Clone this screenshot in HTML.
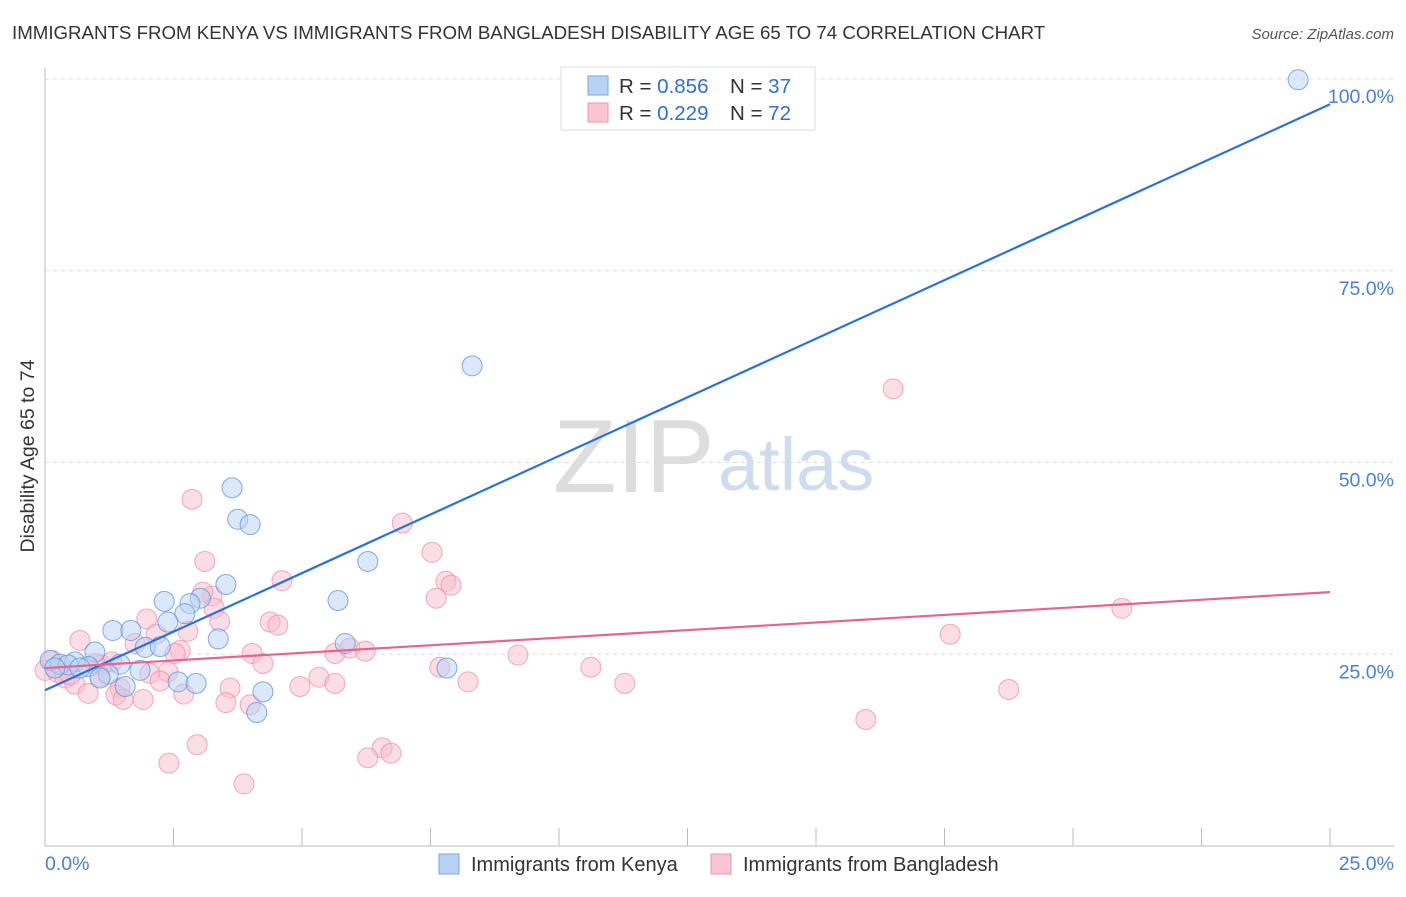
<!DOCTYPE html>
<html><head><meta charset="utf-8"><style>
body{margin:0;background:#fff;font-family:"Liberation Sans",sans-serif;}
svg text{font-family:"Liberation Sans",sans-serif;}
</style></head><body>
<svg id="chart" width="1406" height="892" viewBox="0 0 1406 892">
<text x="12" y="39" font-size="18.7" fill="#333">IMMIGRANTS FROM KENYA VS IMMIGRANTS FROM BANGLADESH DISABILITY AGE 65 TO 74 CORRELATION CHART</text>
<text x="1394" y="39" font-size="15" fill="#555" text-anchor="end" font-style="italic">Source: ZipAtlas.com</text>
<text x="553" y="492" font-size="104" fill="#ddd" font-family="Liberation Serif">ZIP</text>
<text x="718" y="490" font-size="74" fill="#cfdcef">atlas</text>
<g id="grid"></g>
<g id="axes"></g>
<g id="pts"></g>
<g id="trends"></g>
<text transform="translate(34,456) rotate(-90)" font-size="19.5" fill="#333" text-anchor="middle">Disability Age 65 to 74</text>
<text x="45" y="870" font-size="19.5" fill="#4a7fd4">0.0%</text>
<text x="1394" y="870" font-size="19.5" fill="#4a7fd4" text-anchor="end">25.0%</text>
<g>
<rect x="561" y="67" width="254" height="63" fill="#fff" stroke="#ddd"/>
<rect x="588" y="76" width="20" height="19" fill="#b8d2f4" stroke="#7aa6e6"/>
<rect x="588" y="103" width="20" height="19" fill="#fac4d3" stroke="#ee95ae"/>
<text x="619" y="93" font-size="20.5" fill="#333">R = <tspan fill="#2f6fd0">0.856</tspan><tspan x="730">N = </tspan><tspan fill="#2f6fd0">37</tspan></text>
<text x="619" y="120" font-size="20.5" fill="#333">R = <tspan fill="#2f6fd0">0.229</tspan><tspan x="730">N = </tspan><tspan fill="#2f6fd0">72</tspan></text>
</g>
<g>
<rect x="439" y="854" width="20" height="20" fill="#b8d2f4" stroke="#7aa6e6"/>
<text x="471" y="871" font-size="20" fill="#333">Immigrants from Kenya</text></g>
<g>
<rect x="711" y="854" width="20" height="20" fill="#fac4d3" stroke="#ee95ae"/>
<text x="743" y="871" font-size="20" fill="#333">Immigrants from Bangladesh</text></g>
</svg>
<script>
const yTicks=[25,50,75,100];
const yTickLabels=["25.0%","50.0%","75.0%","100.0%"];
const kenyaX=[24.38,8.31,3.64,3.75,3.99,6.28,3.52,2.32,5.70,3.02,2.82,2.72,2.39,1.32,1.67,3.37,1.95,2.24,5.84,0.97,0.10,0.29,0.58,0.84,1.46,1.85,1.23,1.07,2.59,2.94,1.56,4.24,4.12,7.82,0.45,0.19,0.68];
const kenyaY=[99.9,62.6,46.7,42.6,41.9,37.1,34.1,31.9,32.0,32.3,31.6,30.3,29.2,28.1,28.1,27.0,25.9,26.0,26.4,25.3,24.2,23.7,24.0,23.4,23.7,22.9,22.4,21.9,21.4,21.2,20.8,20.1,17.4,23.2,23.6,23.2,23.2];
const bangX=[16.5,2.86,6.95,3.11,7.53,7.80,7.90,4.61,7.61,3.25,3.07,20.95,3.29,1.98,3.40,4.38,4.53,2.78,0.68,17.61,1.75,2.16,2.63,2.53,4.03,5.64,5.93,6.23,9.20,4.24,7.68,10.62,1.11,1.30,2.04,2.39,0.23,0.39,0.0,0.58,2.24,5.33,8.23,11.28,5.64,4.96,3.60,1.46,2.70,0.84,1.38,18.75,1.52,1.91,3.52,3.99,15.97,2.96,6.56,6.73,6.28,2.41,3.87,0.97,0.49,1.07,0.14];
const bangY=[59.6,45.2,42.1,37.1,38.3,34.5,34.0,34.6,32.3,32.6,33.1,31.0,31.0,29.6,29.3,29.2,28.8,28.0,26.8,27.6,26.4,27.6,25.5,25.1,25.1,25.1,25.8,25.4,24.9,23.8,23.3,23.3,23.6,24.0,22.5,22.7,22.7,21.9,22.9,21.1,21.5,22.0,21.4,21.2,21.2,20.8,20.6,20.6,19.8,19.9,19.7,20.4,19.1,19.1,18.7,18.4,16.5,13.2,12.8,12.1,11.5,10.8,8.1,23.8,22.3,22.1,24.2];
const kenyaTrend=[20.3,96.7];
const bangTrend=[23.2,33.1];
const xDomain=[0,25];
const NS="http://www.w3.org/2000/svg";
const X0=45,X1=1330,Y0=846,Y100=79;
function sx(v){return X0+(v-xDomain[0])/(xDomain[1]-xDomain[0])*(X1-X0);}
function sy(v){return Y0-(v/100)*(Y0-Y100);}
function mk(tag,attrs,parent){const e=document.createElementNS(NS,tag);for(const k in attrs)e.setAttribute(k,attrs[k]);parent.appendChild(e);return e;}
const grid=document.getElementById('grid'),axes=document.getElementById('axes'),pts=document.getElementById('pts'),tr=document.getElementById('trends');
yTicks.forEach((t,i)=>{
 const l=mk('line',{x1:X0,x2:1394,y1:sy(t),y2:sy(t),stroke:'#ddd','stroke-dasharray':'4,4'},grid);
 
 
 const tx=mk('text',{x:1394,y:sy(t)+24,'font-size':19.5,fill:'#4a7fd4','text-anchor':'end'},grid);
 tx.textContent=yTickLabels[i];
 
 
});
const ya=mk('line',{x1:X0,x2:X0,y1:68,y2:Y0,stroke:'#bbb'},axes);


const xa=mk('line',{x1:X0,x2:1394,y1:Y0,y2:Y0,stroke:'#bbb'},axes);


for(let i=0;i<=10;i++){const x=sx(i*2.5);
 const t=mk('line',{x1:x,x2:x,y1:Y0,y2:Y0-18,stroke:'#bbb'},axes);
 
 }
function drawPts(xs,ys,fill,stroke,name){xs.forEach((v,i)=>{
 const c=mk('circle',{cx:sx(v),cy:sy(ys[i]),r:10,fill:fill,'fill-opacity':0.5,stroke:stroke,'stroke-opacity':0.75,'stroke-width':1},pts);
 
 });}
drawPts(bangX,bangY,'#f8bccd','#ec8eaa','bangladesh-point');
drawPts(kenyaX,kenyaY,'#b8d2f4','#5b8fdd','kenya-point');
const k=mk('line',{x1:sx(0),y1:sy(kenyaTrend[0]),x2:sx(25),y2:sy(kenyaTrend[1]),stroke:'#2a72d6','stroke-width':2.2},tr);


const b=mk('line',{x1:sx(0),y1:sy(bangTrend[0]),x2:sx(25),y2:sy(bangTrend[1]),stroke:'#e8648e','stroke-width':2.2},tr);


</script>
</body></html>
